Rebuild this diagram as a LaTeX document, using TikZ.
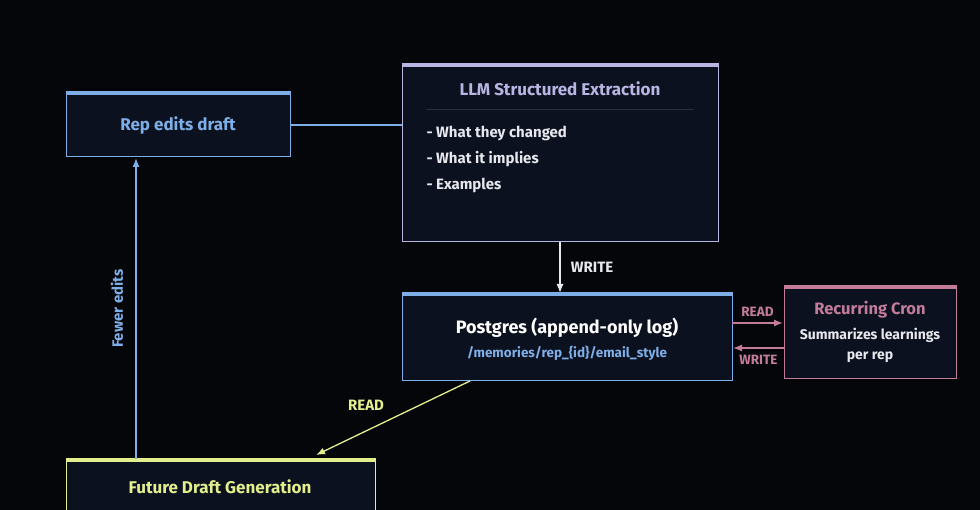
\documentclass[tikz,border=0pt]{standalone}
\usepackage{fontspec}
\setmainfont{Fira Sans}
\usetikzlibrary{arrows.meta,positioning}
\definecolor{bg}{HTML}{050609}
\definecolor{boxbg}{HTML}{0C1120}
\definecolor{repblue}{HTML}{7DAEE6}
\definecolor{lav}{HTML}{B9B5E2}
\definecolor{cronpink}{HTML}{C27C9A}
\definecolor{ylw}{HTML}{E3EE8C}
\definecolor{txt}{HTML}{E6E8EE}

\begin{document}
\begin{tikzpicture}[x=1pt,y=-1pt,
  box/.style={draw, line width=1.3pt, fill=boxbg, inner sep=0pt, anchor=north west},
  title/.style={font=\bfseries\fontsize{17}{19}\selectfont},
  body/.style={font=\bfseries\fontsize{15}{17}\selectfont, text=txt},
  small/.style={font=\bfseries\fontsize{13.5}{15}\selectfont},
  arrow/.style={-{Latex[length=9pt,width=7pt]}, line width=1.3pt},
]
  \fill[bg] (0,0) rectangle (980,510);
  \clip (0,0) rectangle (980,510);

  % boxes
  \node[box, draw=repblue, minimum width=224pt, minimum height=63pt] (rep) at (66,93) {};
  \node[box, draw=lav, minimum width=316pt, minimum height=176pt] (llm) at (402,65) {};
  \node[box, draw=repblue, minimum width=330pt, minimum height=86pt] (pg) at (402,294) {};
  \node[box, draw=cronpink, minimum width=172pt, minimum height=91pt] (cron) at (784,287) {};
  \node[box, draw=ylw, minimum width=309pt, minimum height=80pt] (future) at (66,460) {};

  % thick top edges
  \draw[repblue, line width=3.5pt] (rep.north west) -- (rep.north east);
  \draw[lav, line width=3.5pt] (llm.north west) -- (llm.north east);
  \draw[repblue, line width=3.5pt] (pg.north west) -- (pg.north east);
  \draw[cronpink, line width=3.5pt] (cron.north west) -- (cron.north east);
  \draw[ylw, line width=3.5pt] (future.north west) -- (future.north east);

  % texts
  \node[title, text=repblue] (reptext) at (178,125) {Rep edits draft};
  \node[title, text=lav] (llmtitle) at (560,89) {LLM Structured Extraction};
  \draw[white!12!boxbg] (426,109) -- (694,109);
  \node[body, anchor=west] (item1) at (423,133) {- What they changed};
  \node[body, anchor=west] (item2) at (423,159) {- What it implies};
  \node[body, anchor=west] (item3) at (423,185) {- Examples};
  \node[title, text=white, font=\bfseries\fontsize{18}{20}\selectfont] (pgtitle) at (567,328) {Postgres (append-only log)};
  \node[small, text=repblue] (pgpath) at (567,353) {/memories/rep\_\{id\}/email\_style};
  \node[title, text=cronpink, font=\bfseries\fontsize{16.5}{18}\selectfont] (crontitle) at (870,310) {Recurring Cron};
  \node[body, align=center, font=\bfseries\fontsize{14}{20}\selectfont] (crontext) at (870,345) {Summarizes learnings\\per rep};
  \node[title, text=ylw] (futuretitle) at (220,487) {Future Draft Generation};

  % connectors
  \coordinate (pgread) at (470,381);
  \coordinate (futin) at (316,455);
  \draw[repblue, line width=1.3pt] (rep.east) -- (rep.east -| llm.west);
  \draw[arrow, txt] (llm.south -| 560,0) -- (560,293) node[midway, right=7pt, body] {WRITE};
  \draw[arrow, cronpink] (732,323) -- (783,323) node[midway, above=3pt, small] {READ};
  \draw[arrow, cronpink] (784,348) -- (733,348) node[midway, below=3pt, small] {WRITE};
  \draw[arrow, ylw] (pgread) -- (futin);
  \node[body, text=ylw] (readlbl) at (366,405) {READ};
  \draw[arrow, repblue] (136,459) -- (136,158) node[midway, left=9pt, rotate=90, anchor=south, body, text=repblue] {Fewer edits};
\end{tikzpicture}
\end{document}
